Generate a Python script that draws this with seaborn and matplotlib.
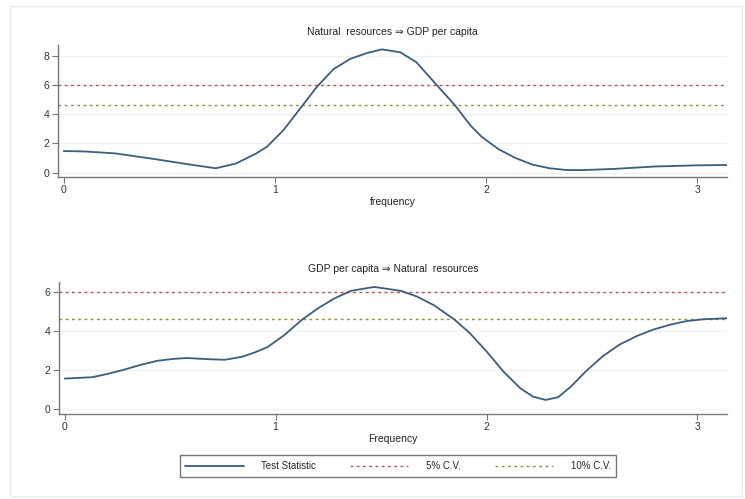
import matplotlib.pyplot as plt
import seaborn as sns
import numpy as np
import pandas as pd

# frequency grid and test statistic
freq_top = [0.0, 0.1, 0.243, 0.43, 0.59, 0.72, 0.815, 0.91, 0.962, 1.04, 1.12,
            1.2, 1.278, 1.357, 1.436, 1.507, 1.594, 1.67, 1.767, 1.854, 1.925,
            1.98, 2.06, 2.14, 2.22, 2.3, 2.38, 2.45, 2.6, 2.8, 3.0, 3.1416]
stat_top = [1.48, 1.45, 1.32, 0.93, 0.57, 0.3, 0.62, 1.3, 1.77, 2.9, 4.4,
            5.9, 7.1, 7.8, 8.2, 8.45, 8.25, 7.57, 6.0, 4.6, 3.25,
            2.45, 1.6, 1.0, 0.55, 0.3, 0.18, 0.17, 0.25, 0.42, 0.5, 0.52]

freq_bot = [0.0, 0.13, 0.2, 0.28, 0.36, 0.44, 0.52, 0.58, 0.68, 0.76, 0.84, 0.9,
            0.962, 1.04, 1.128, 1.2, 1.278, 1.357, 1.467, 1.594, 1.67, 1.75,
            1.846, 1.92, 2.0, 2.08, 2.16, 2.22, 2.28, 2.34, 2.4, 2.47, 2.55,
            2.63, 2.71, 2.79, 2.87, 2.95, 3.03, 3.1416]
stat_bot = [1.57, 1.64, 1.8, 2.02, 2.27, 2.48, 2.58, 2.62, 2.56, 2.53, 2.68, 2.9,
            3.18, 3.78, 4.6, 5.15, 5.66, 6.05, 6.25, 6.05, 5.76, 5.32,
            4.6, 3.9, 2.96, 1.93, 1.08, 0.65, 0.48, 0.62, 1.16, 1.93, 2.7,
            3.3, 3.73, 4.07, 4.32, 4.51, 4.6, 4.65]

cv5 = 5.99
cv10 = 4.61

titles = ["Natural  resources \u21d2 GDP per capita",
          "GDP per capita \u21d2 Natural  resources"]
xlabels = ["frequency", "Frequency"]
top_yticks = [0, 2, 4, 6, 8]
bot_yticks = [0, 2, 4, 6]
xticks = [0, 1, 2, 3]

sns.set_style("white")
plt.rcParams["font.family"] = ["Liberation Sans", "DejaVu Sans"]

line_color = "#3e5c7c"
red = "#b5545c"
green = "#7f9a3e"

fig = plt.figure(figsize=(7.45, 4.99), dpi=100)
ax1 = fig.add_axes([0.0779, 0.6453, 0.898, 0.2645])
ax2 = fig.add_axes([0.0792, 0.1703, 0.897, 0.2645])

panels = [
    (ax1, freq_top, stat_top, top_yticks, (-0.3, 8.75)),
    (ax2, freq_bot, stat_bot, bot_yticks, (-0.24, 6.5)),
]

for i, (ax, f, s, yt, ylim) in enumerate(panels):
    df = pd.DataFrame({"freq": f, "stat": s})
    for y in yt:
        ax.axhline(y, color="#eef1f4", lw=1.0, zorder=0)
    ax.axhline(cv5, color=red, lw=1.0, ls=(0, (2, 2.5)), label="5% C.V.")
    ax.axhline(cv10, color=green, lw=1.0, ls=(0, (2, 2.5)), label="10% C.V.")
    sns.lineplot(data=df, x="freq", y="stat", ax=ax, color=line_color,
                 lw=1.3, label="Test Statistic", legend=False)
    ax.set_xlim(-0.027, np.pi)
    ax.set_ylim(*ylim)
    ax.set_xticks(xticks)
    ax.set_yticks(yt)
    ax.set_title(titles[i], fontsize=7.5, color="#222222", pad=7)
    ax.set_xlabel(xlabels[i], fontsize=7.5, color="#222222", labelpad=1)
    ax.set_ylabel("")
    for side in ["top", "right"]:
        ax.spines[side].set_visible(False)
    for side in ["left", "bottom"]:
        ax.spines[side].set_color("#777777")
        ax.spines[side].set_linewidth(1.0)
    ax.tick_params(axis="both", direction="out", length=4, width=0.8,
                   color="#777777", labelsize=7.5, labelcolor="#333333",
                   left=True, bottom=True, pad=2)

handles, labels = ax2.get_legend_handles_labels()
order = [labels.index(n) for n in ["Test Statistic", "5% C.V.", "10% C.V."]]
leg = fig.legend([handles[k] for k in order], [labels[k] for k in order],
                 loc="center", bbox_to_anchor=(398 / 745, 1 - 466 / 499),
                 ncol=3, fontsize=7, frameon=True, fancybox=False,
                 handlelength=6, columnspacing=3.5, handletextpad=1.8,
                 borderpad=0.6, edgecolor="#555555")
leg.get_frame().set_linewidth(1.0)

# light outer frame around the whole graph
fig.patches.append(plt.Rectangle((10 / 745, 3 / 499), 732 / 745, 490 / 499,
                                 transform=fig.transFigure, fill=False,
                                 edgecolor="#ececec", lw=1.0))

fig.savefig("out.png", dpi=100, facecolor="white")
plt.close()
